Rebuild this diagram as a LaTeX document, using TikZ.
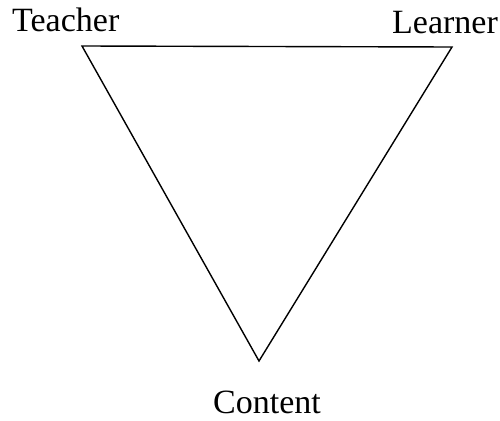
\documentclass[tikz,border=0pt]{standalone}
\usepackage{fontspec}
\setmainfont{Liberation Serif}
\usepackage{tikz}
\usetikzlibrary{positioning, calc}

\tikzset{
  corner label/.style={font=\fontsize{34}{39}\selectfont, inner sep=0pt, anchor=base west}
}

\begin{document}
\begin{tikzpicture}[x=1pt, y=-1pt]
  \useasboundingbox (0,0) rectangle (500,420);

  % Triangle vertices (inverted, apex at the bottom)
  \coordinate (T) at (82,46);
  \coordinate (L) at (452,47);
  \coordinate (C) at (259,361);

  % Draw triangle
  \draw[line width=1.4pt, line join=miter] (T) -- (L) -- (C) -- cycle;

  % Vertex labels
  \node[corner label] (teacher) at (12,32) {Teacher};
  \node[corner label] (learner) at (392,34) {Learner};
  \node[corner label] (content) at (213,413) {Content};
\end{tikzpicture}
\end{document}
